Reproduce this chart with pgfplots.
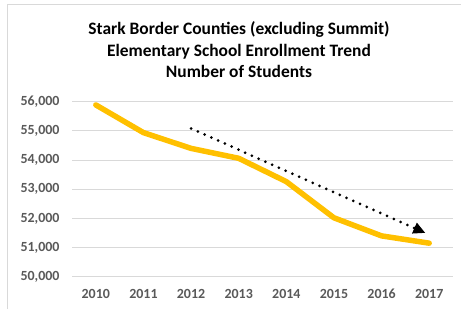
\documentclass[border=0pt]{standalone}
\usepackage{pgfplots}
\pgfplotsset{compat=1.18}
\usetikzlibrary{arrows.meta}
\usepackage{fontspec}
\setmainfont{Carlito}
\definecolor{gold}{HTML}{FFC000}
\definecolor{gridgray}{HTML}{D9D9D9}
\definecolor{ticklab}{HTML}{595959}
\begin{document}
\begin{tikzpicture}[x=1bp,y=1bp]
\useasboundingbox (0,0) rectangle (461,-309);
\draw[gridgray, line width=1bp] (7.3,-309) -- (7.3,-4) -- (461,-4);
\node[align=center, font=\fontsize{17.5}{21.5}\selectfont\bfseries, text=black, anchor=center] at (239,-50) {Stark Border Counties (excluding Summit)\\Elementary School Enrollment Trend\\Number of Students};
\begin{axis}[
  at={(72bp,-276.7bp)}, anchor=south west,
  width=381bp, height=175bp, scale only axis,
  xmin=-0.5, xmax=7.5, ymin=50000, ymax=56000,
  xtick={0,...,7},
  xticklabels={2010,2011,2012,2013,2014,2015,2016,2017},
  ytick={50000,51000,52000,53000,54000,55000,56000},
  scaled y ticks=false,
  /pgf/number format/assume math mode=true,
  /pgf/number format/1000 sep={,},
  ymajorgrids, major grid style={gridgray, line width=1bp},
  axis line style={draw=none},
  major tick length=0pt,
  tick label style={font=\fontsize{14}{16}\selectfont\bfseries, text=ticklab},
  xticklabel style={yshift=-9bp},
  yticklabel style={xshift=-9bp},
  clip=false,
]
\addplot[gold, line width=5.5bp, line cap=round, line join=round] coordinates {
  (0,55890) (1,54940) (2,54400) (3,54060) (4,53260) (5,52020) (6,51400) (7,51150)
};
\addplot[black, line width=3bp, line cap=round, dash pattern=on 0pt off 7.4bp, -{Triangle[length=12bp,width=11bp]}] coordinates {
  (2,55080) (6.92,51500)
};
\end{axis}
\end{tikzpicture}
\end{document}
